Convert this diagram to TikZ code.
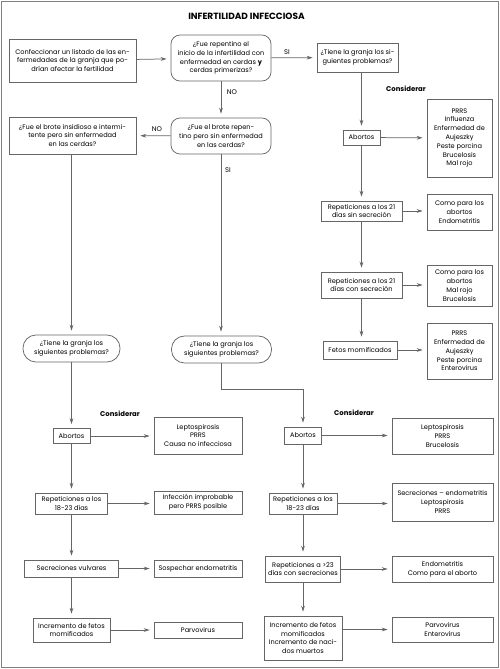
\documentclass[tikz,border=0pt]{standalone}
\usepackage{fontspec}
\setmainfont{Poppins}
\usetikzlibrary{arrows.meta}
\tikzset{
  every node/.style={font=\fontsize{6.6}{8.8}\selectfont, text=black, inner sep=0pt, align=center},
  bx/.style={draw=black!60, line width=0.75pt, rectangle},
  rnd/.style={draw=black!60, line width=0.75pt, rounded corners=9pt},
  pill/.style={draw=black!60, line width=0.75pt, rounded corners=13pt},
  arr/.style={draw=black!60, line width=0.75pt, -{Stealth[length=6pt,width=3.8pt]}, shorten >=4pt},
  lbl/.style={font=\fontsize{6.8}{8}\selectfont},
  cons/.style={font=\bfseries\fontsize{6.9}{8}\selectfont},
  ttl/.style={font=\bfseries\fontsize{9}{10}\selectfont},
}
\begin{document}
\begin{tikzpicture}[x=1pt,y=-1pt]
\useasboundingbox (0,0) rectangle (500,669);
\draw[black!50, line width=1.6pt] (1.5,1.5) rectangle (498.5,667.5);

\node[ttl] (title) at (246.5,16) {INFERTILIDAD INFECCIOSA};

% top section
\node[bx, minimum width=127pt, minimum height=43pt] (A) at (72.5,60.5) {Confeccionar un listado de las en-\\fermedades de la granja que po-\\drían afectar la fertilidad};
\node[rnd, minimum width=100pt, minimum height=46pt] (B) at (221,58) {¿Fue repentino el\\inicio de la infertilidad con\\enfermedad en cerdas \textbf{y}\\cerdas primerizas?};
\node[bx, minimum width=81pt, minimum height=29pt] (C) at (357.5,57.5) {¿Tiene la granja los si-\\guientes problemas?};
\node[rnd, minimum width=100pt, minimum height=36pt] (D) at (221,136) {¿Fue el brote repen-\\tino pero sin enfermedad\\en las cerdas?};
\node[bx, minimum width=127pt, minimum height=37pt] (E) at (72.5,135.5) {¿Fue el brote insidioso e intermi-\\tente pero sin enfermedad\\en las cerdas?};
\node[pill, minimum width=97pt, minimum height=27pt] (F) at (71.5,348.5) {¿Tiene la granja los\\siguientes problemas?};
\node[pill, minimum width=100pt, minimum height=27pt] (G) at (221.5,349.5) {¿Tiene la granja los\\siguientes problemas?};

\node[lbl] (si1) at (287,52) {SI};
\node[lbl] (no1) at (232,92) {NO};
\node[lbl] (no2) at (157,129) {NO};
\node[lbl] (si2) at (228,170) {SI};

% right-top column
\node[cons] (cons1) at (406,89) {Considerar};
\node[bx, minimum width=37pt, minimum height=15pt] (RA1) at (361.5,137.5) {Abortos};
\node[bx, minimum width=65pt, minimum height=78pt] (RRA1) at (459.5,138) {PRRS\\Influenza\\Enfermedad de\\Aujeszky\\Peste porcina\\Brucelosis\\Mal rojo};
\node[bx, minimum width=81pt, minimum height=20pt] (RA2) at (361.5,211) {Repeticiones a los 21\\días sin secreción};
\node[bx, minimum width=65pt, minimum height=36pt] (RRA2) at (459.5,212) {Como para los\\abortos\\Endometritis};
\node[bx, minimum width=81pt, minimum height=26pt] (RA3) at (361.5,285) {Repeticiones a los 21\\días con secreción};
\node[bx, minimum width=65pt, minimum height=41pt] (RRA3) at (459.5,285.5) {Como para los\\abortos\\Mal rojo\\Brucelosis};
\node[bx, minimum width=74pt, minimum height=18pt] (RA4) at (360,350) {Fetos momificados};
\node[bx, minimum width=65pt, minimum height=56pt] (RRA4) at (459.5,351) {PRRS\\Enfermedad de\\Aujeszky\\Peste porcina\\Enterovirus};

% left-bottom column
\node[cons] (cons2) at (120,414) {Considerar};
\node[bx, minimum width=37pt, minimum height=15pt] (L1) at (71.5,436) {Abortos};
\node[bx, minimum width=88pt, minimum height=37pt] (LR1) at (198,435.5) {Leptospirosis\\PRRS\\Causa no infecciosa};
\node[bx, minimum width=72pt, minimum height=21pt] (L2) at (71.5,503.5) {Repeticiones a los\\18-23 días};
\node[bx, minimum width=88pt, minimum height=23pt] (LR2) at (198,502.5) {Infección improbable\\pero PRRS posible};
\node[bx, minimum width=94pt, minimum height=17pt] (L3) at (71.5,568.5) {Secreciones vulvares};
\node[bx, minimum width=88pt, minimum height=17pt] (LR3) at (198,568.5) {Sospechar endometritis};
\node[bx, minimum width=77pt, minimum height=24pt] (L4) at (71.5,630) {Incremento de fetos\\momificados};
\node[bx, minimum width=88pt, minimum height=16pt] (LR4) at (198,630) {Parvovirus};

% right-bottom column
\node[cons] (cons3) at (354,413) {Considerar};
\node[bx, minimum width=37pt, minimum height=17pt] (R1) at (303,435.5) {Abortos};
\node[bx, minimum width=101pt, minimum height=36pt] (RR1) at (442.5,436) {Leptospirosis\\PRRS\\Brucelosis};
\node[bx, minimum width=68pt, minimum height=21pt] (R2) at (303,503.5) {Repeticiones a los\\18-23 días};
\node[bx, minimum width=101pt, minimum height=38pt] (RR2) at (442.5,502) {Secreciones -- endometritis\\Leptospirosis\\PRRS};
\node[bx, minimum width=75pt, minimum height=26pt] (R3) at (303,569) {Repeticiones a >23\\días con secreciones};
\node[bx, minimum width=101pt, minimum height=26pt] (RR3) at (442.5,569) {Endometritis\\Como para el aborto};
\node[bx, minimum width=78pt, minimum height=44pt] (R4) at (303,638) {Incremento de fetos\\momificados\\Incremento de naci-\\dos muertos};
\node[bx, minimum width=101pt, minimum height=25pt] (RR4) at (442.5,629.5) {Parvovirus\\Enterovirus};

\coordinate (gturn) at (221.5,389);
\coordinate (rturn) at (303,389);

% connectors
\draw[arr] (A) -- (B);
\draw[arr] (B) -- (C);
\draw[arr] (B) -- (D);
\draw[arr] (D) -- (E);
\draw[arr] (E.south -| F.north) -- (F.north);
\draw[arr] (D.south) -- (G.north -| D.south);
\draw[arr] (C.south -| RA1.north) -- (RA1.north);
\draw[arr] (RA1) -- (RRA1);
\draw[arr] (RA1) -- (RA2);
\draw[arr] (RA2.east) -- (RA2.east -| RRA2.west);
\draw[arr] (RA2) -- (RA3);
\draw[arr] (RA3.east) -- (RA3.east -| RRA3.west);
\draw[arr] (RA3.south -| RA1.south) -- (RA4.north -| RA1.south);
\draw[arr] (RA4.east) -- (RA4.east -| RRA4.west);

\draw[arr] (F) -- (L1);
\draw[arr] (L1) -- (LR1.west |- L1.east);
\draw[arr] (L1) -- (L2);
\draw[arr] (L2.east) -- (L2.east -| LR2.west);
\draw[arr] (L2) -- (L3);
\draw[arr] (L3.east) -- (L3.east -| LR3.west);
\draw[arr] (L3) -- (L4);
\draw[arr] (L4.east) -- (L4.east -| LR4.west);

\draw[arr] (G.south) -- (gturn) -- (rturn) -- (R1.north);
\draw[arr] (R1.east) -- (R1.east -| RR1.west);
\draw[arr] (R1) -- (R2);
\draw[arr] (R2.east) -- (R2.east -| RR2.west);
\draw[arr] (R2) -- (R3);
\draw[arr] (R3.east) -- (R3.east -| RR3.west);
\draw[arr] (R3) -- (R4);
\draw[arr] (RR4.west -| R4.east) -- (RR4.west);
\end{tikzpicture}
\end{document}
